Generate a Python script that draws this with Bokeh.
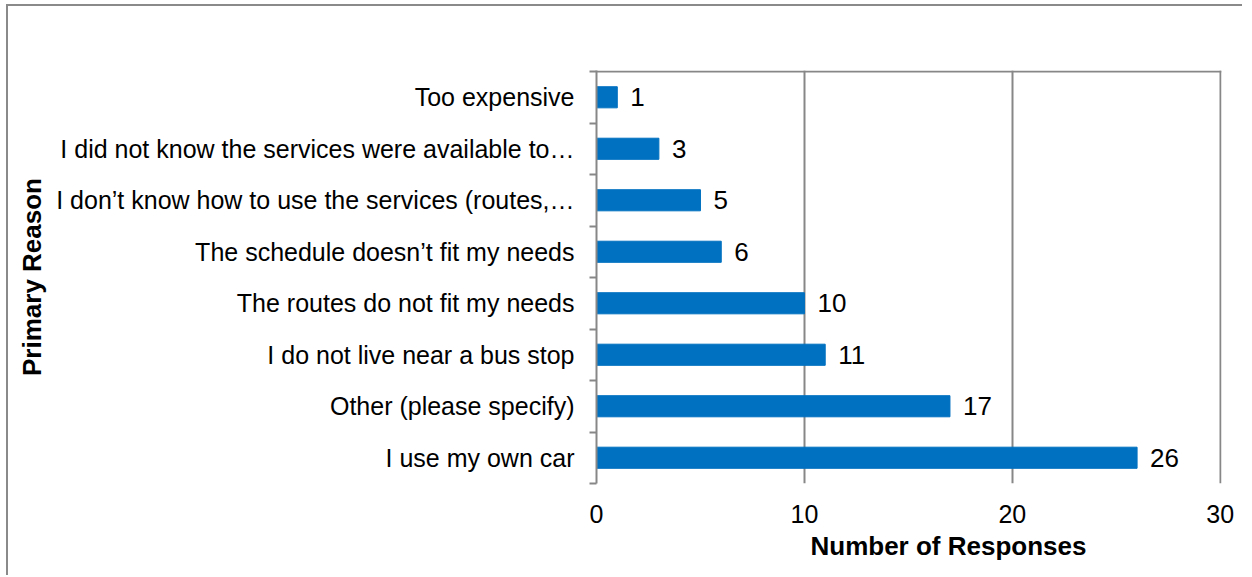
from bokeh.plotting import figure
from bokeh.models import FixedTicker, Span, ColumnDataSource, Range1d, Title
from bokeh.embed import file_html
from bokeh.resources import INLINE
from bokeh.core.properties import value

# ---- data (top to bottom as shown) ----
reasons = [
    "Too expensive",
    "I did not know the services were available to\u2026",
    "I don\u2019t know how to use the services (routes,\u2026",
    "The schedule doesn\u2019t fit my needs",
    "The routes do not fit my needs",
    "I do not live near a bus stop",
    "Other (please specify)",
    "I use my own car",
]
responses = [1, 3, 5, 6, 10, 11, 17, 26]
x_ticks = [0, 10, 20, 30]
x_title = "Number of Responses"
y_title = "Primary Reason"

FONT = "Liberation Sans"
GRAY = "#878787"
BLUE = "#0070C0"
FS = "26px"
FS_Y = "25px"

n = len(reasons)
ypos = [n - i - 0.5 for i in range(n)]
src = ColumnDataSource(dict(y=ypos, v=responses, t=[str(v) for v in responses]))

p = figure(
    width=1236, height=571,
    x_range=Range1d(x_ticks[0], x_ticks[-1] * 1.002), y_range=Range1d(0, n * 1.0025),
    output_backend="svg", toolbar_location=None,
    min_border_left=588, min_border_right=23, min_border_top=64, min_border_bottom=94,
)
p.styles = {
    "border-top": "2px solid #8a8a8a",
    "border-left": "2px solid #8a8a8a",
    "margin-top": "4px",
    "margin-left": "6px",
}
p.outline_line_color = None
p.background_fill_color = "white"
p.border_fill_color = "white"

p.hbar(y="y", left=0, right="v", height=0.41, fill_color=BLUE, line_color=BLUE, source=src)
p.text(x="v", y="y", text="t", x_offset=13, text_align="left", text_baseline="middle",
       text_font=value(FONT), text_font_size=FS, text_color="black", source=src)

# x axis
xa = p.xaxis[0]
xa.ticker = FixedTicker(ticks=x_ticks)
xa.axis_line_color = None
xa.major_tick_out = 0
xa.major_tick_in = 0
xa.minor_tick_out = 0
xa.minor_tick_in = 0
xa.major_label_standoff = 21
xa.major_label_text_font = FONT
xa.major_label_text_font_size = FS_Y
xa.major_label_text_color = "black"

# y axis
ya = p.yaxis[0]
ya.ticker = FixedTicker(ticks=ypos, minor_ticks=list(range(n + 1)))
ya.major_label_overrides = {y: r for y, r in zip(ypos, reasons)}
ya.major_tick_out = 0
ya.major_tick_in = 0
ya.minor_tick_out = 7
ya.minor_tick_in = 0
ya.minor_tick_line_color = GRAY
ya.minor_tick_line_width = 2
ya.axis_line_color = GRAY
ya.axis_line_width = 2
ya.major_label_standoff = 15
ya.major_label_text_font = FONT
ya.major_label_text_font_size = FS_Y
ya.major_label_text_color = "black"

# grid
p.xgrid.ticker = FixedTicker(ticks=x_ticks)
p.xgrid.grid_line_color = GRAY
p.xgrid.grid_line_width = 2
p.ygrid.grid_line_color = None

p.add_layout(Span(location=n, dimension="width", line_color=GRAY, line_width=2))

# axis titles
p.add_layout(Title(text=x_title, align="left", offset=214, vertical_align="top", standoff=10,
                   text_font=FONT, text_font_size=FS, text_font_style="bold",
                   text_color="black"), "below")
p.add_layout(Title(text=y_title, align="center", vertical_align="bottom", standoff=13,
                   text_font=FONT, text_font_size=FS, text_font_style="bold",
                   text_color="black"), "left")

open("out.html", "w").write(file_html(p, INLINE))
